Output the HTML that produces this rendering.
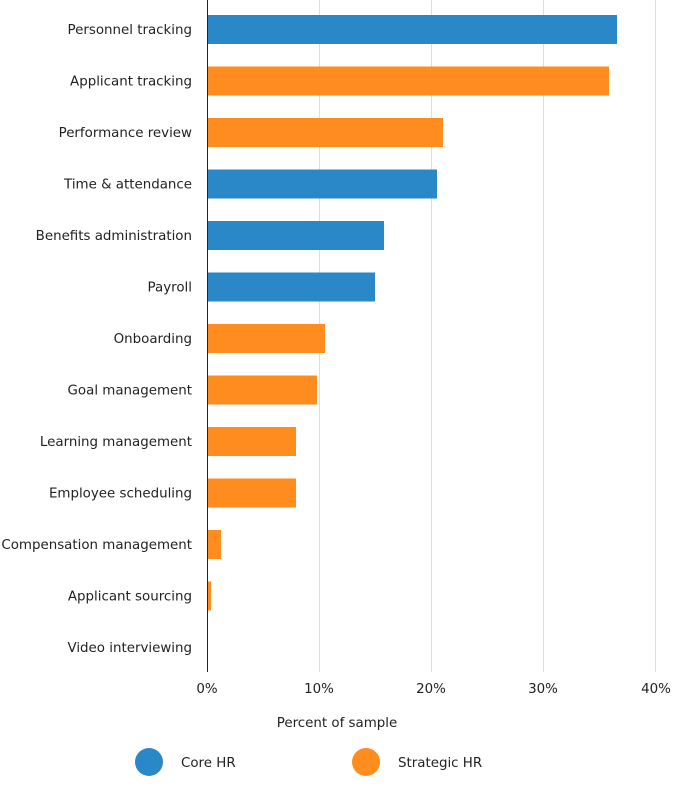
<!DOCTYPE html>
<html><head><meta charset="utf-8"><style>
body{margin:0;background:#fff}
text{font-family:"DejaVu Sans","Liberation Sans",sans-serif;font-size:13.4px;fill:#222}
</style></head><body>
<svg width="675" height="798" xmlns="http://www.w3.org/2000/svg">
<g stroke="#ddd" stroke-width="1">
<line x1="319.5" y1="0" x2="319.5" y2="672"/>
<line x1="431.5" y1="0" x2="431.5" y2="672"/>
<line x1="543.5" y1="0" x2="543.5" y2="672"/>
<line x1="655.5" y1="0" x2="655.5" y2="672"/>
</g>
<g>
<rect x="207" y="15" width="410" height="29" fill="#2a88c8"/>
<rect x="207" y="66.5" width="402" height="29" fill="#ff8c1f"/>
<rect x="207" y="118" width="236" height="29" fill="#ff8c1f"/>
<rect x="207" y="169.5" width="230" height="29" fill="#2a88c8"/>
<rect x="207" y="221" width="177" height="29" fill="#2a88c8"/>
<rect x="207" y="272.5" width="168" height="29" fill="#2a88c8"/>
<rect x="207" y="324" width="118" height="29" fill="#ff8c1f"/>
<rect x="207" y="375.5" width="110" height="29" fill="#ff8c1f"/>
<rect x="207" y="427" width="89" height="29" fill="#ff8c1f"/>
<rect x="207" y="478.5" width="89" height="29" fill="#ff8c1f"/>
<rect x="207" y="530" width="14" height="29" fill="#ff8c1f"/>
<rect x="207" y="581.5" width="4" height="29" fill="#ff8c1f"/>
</g>
<line x1="207.5" y1="0" x2="207.5" y2="672" stroke="#222" stroke-width="1"/>
<g text-anchor="end">
<text x="192" y="34">Personnel tracking</text>
<text x="192" y="85.5">Applicant tracking</text>
<text x="192" y="137">Performance review</text>
<text x="192" y="188.5">Time &amp; attendance</text>
<text x="192" y="240">Benefits administration</text>
<text x="192" y="291.5">Payroll</text>
<text x="192" y="343">Onboarding</text>
<text x="192" y="394.5">Goal management</text>
<text x="192" y="446">Learning management</text>
<text x="192" y="497.5">Employee scheduling</text>
<text x="192" y="549">Compensation management</text>
<text x="192" y="600.5">Applicant sourcing</text>
<text x="192" y="652">Video interviewing</text>
</g>
<g text-anchor="middle">
<text x="207" y="693">0%</text>
<text x="319" y="693">10%</text>
<text x="431" y="693">20%</text>
<text x="543" y="693">30%</text>
<text x="656" y="693">40%</text>
<text x="337" y="727">Percent of sample</text>
</g>
<circle cx="149" cy="762" r="14" fill="#2a88c8"/>
<text x="181" y="767">Core HR</text>
<circle cx="366" cy="762" r="14" fill="#ff8c1f"/>
<text x="398" y="767">Strategic HR</text>
</svg>
</body></html>
